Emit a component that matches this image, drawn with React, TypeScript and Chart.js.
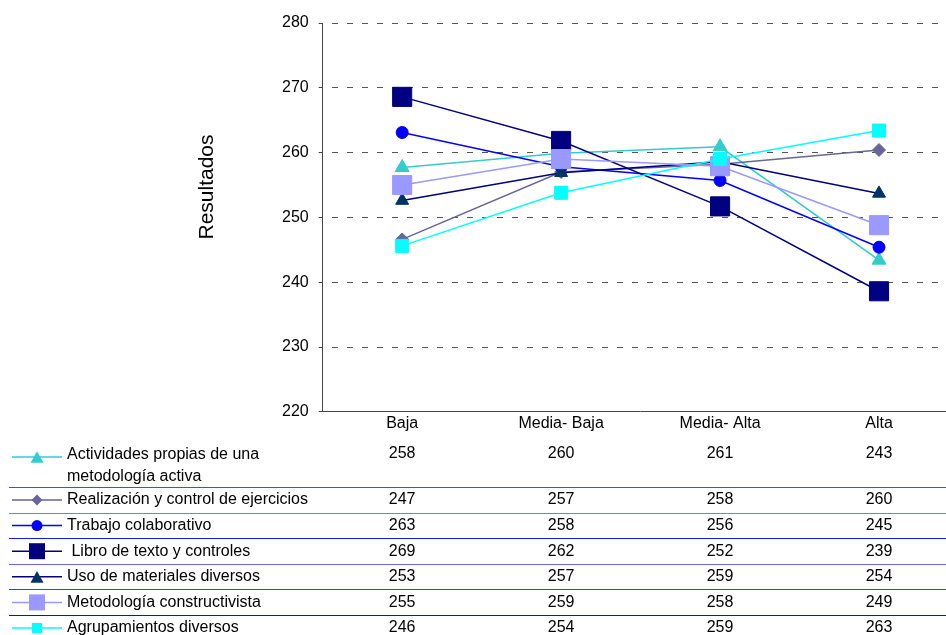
import React, { useEffect, useRef } from "react";
import { Chart, registerables } from "chart.js";

Chart.register(...registerables);

// ---------- data ----------
const categories = ["Baja", "Media- Baja", "Media- Alta", "Alta"];
const yTicks = [220, 230, 240, 250, 260, 270, 280];
const yAxisTitle = "Resultados";

const seriesNames = [
  "Actividades propias de una\nmetodología activa",
  "Realización y control de ejercicios",
  "Trabajo colaborativo",
  " Libro de texto y controles",
  "Uso de materiales diversos",
  "Metodología constructivista",
  "Agrupamientos diversos",
];

const actividades = [257.7, 259.9, 260.9, 243.4];
const realizacion = [246.6, 257.0, 258.2, 260.4];
const trabajo = [263.1, 257.8, 255.7, 245.4];
const libro = [268.6, 261.8, 251.7, 238.6];
const usoMateriales = [252.6, 256.9, 258.6, 253.7];
const constructivista = [255.0, 259.0, 257.9, 248.8];
const agrupamientos = [245.6, 253.8, 259.0, 263.4];

const seriesValues = [
  actividades,
  realizacion,
  trabajo,
  libro,
  usoMateriales,
  constructivista,
  agrupamientos,
];

// ---------- styles ----------
const FONT = "'Liberation Sans', Arial, Helvetica, sans-serif";
const lineColors = ["#33CCCC", "#666699", "#0000FF", "#000080", "#000080", "#9999FF", "#00FFFF"];
const markerColors = ["#33CCCC", "#666699", "#0000FF", "#000080", "#003366", "#9999FF", "#00FFFF"];
const pointStyles = ["triangle", "rectRot", "circle", "rect", "triangle", "rect", "rect"];
const pointRadii = [8, 6.5, 6, 13.5, 7.5, 13.5, 9.2];
// legend icon: [shape, size]
const legendShapes = ["triangle", "diamond", "circle", "square", "triangle", "square", "square"];
const legendSizes = [13, 11, 11, 16, 13, 16, 10];
const separatorColors = ["#4a4ae8", "#7a7af5", "#1a1aee", "#6a6af0", "#4040dd", "#1010cc"];
const CANVAS_W = 973;

function drawIcon(ctx: CanvasRenderingContext2D, shape: string, size: number, x: number, y: number, color: string) {
  ctx.fillStyle = color;
  ctx.beginPath();
  if (shape === "triangle") {
    const h = size * 0.9;
    ctx.moveTo(x, y - h / 2);
    ctx.lineTo(x + size / 2, y + h / 2);
    ctx.lineTo(x - size / 2, y + h / 2);
    ctx.closePath();
  } else if (shape === "diamond") {
    const s = size / 2;
    ctx.moveTo(x, y - s);
    ctx.lineTo(x + s, y);
    ctx.lineTo(x, y + s);
    ctx.lineTo(x - s, y);
    ctx.closePath();
  } else if (shape === "circle") {
    ctx.arc(x, y, size / 2, 0, Math.PI * 2);
  } else {
    ctx.rect(x - size / 2, y - size / 2, size, size);
  }
  ctx.fill();
}

const tablePlugin = {
  id: "dataTable",
  afterDraw(chart: any) {
    const ctx: CanvasRenderingContext2D = chart.ctx;
    const xs = chart.scales.x;
    ctx.save();

    // y-axis title
    ctx.save();
    ctx.font = `21px ${FONT}`;
    ctx.fillStyle = "#000";
    ctx.translate(213, 187);
    ctx.rotate(-Math.PI / 2);
    ctx.textAlign = "center";
    ctx.textBaseline = "alphabetic";
    ctx.fillText(yAxisTitle, 0, 0);
    ctx.restore();

    const rowH = 25.6;
    const firstCenter = 455;
    const secondCenter = 500;
    const nameLineH = 22;

    // separators
    ctx.lineWidth = 1;
    for (let i = 1; i < seriesNames.length; i++) {
      const y = Math.round(secondCenter + (i - 1) * rowH - 13) + 0.5;
      ctx.strokeStyle = separatorColors[i - 1];
      ctx.beginPath();
      ctx.moveTo(9, y);
      ctx.lineTo(chart.width, y);
      ctx.stroke();
    }

    ctx.font = `16px ${FONT}`;
    ctx.textBaseline = "middle";
    seriesNames.forEach((name, i) => {
      const cy = i === 0 ? firstCenter : secondCenter + (i - 1) * rowH;
      const my = i === 0 ? firstCenter + 2 : cy;
      // legend line
      ctx.strokeStyle = lineColors[i];
      ctx.lineWidth = 1.5;
      ctx.beginPath();
      ctx.moveTo(12, my);
      ctx.lineTo(62, my);
      ctx.stroke();
      drawIcon(ctx, legendShapes[i], legendSizes[i], 37, my, markerColors[i]);
      // name
      ctx.fillStyle = "#000";
      ctx.textAlign = "left";
      name.split("\n").forEach((line, k) => {
        ctx.fillText(line, 67, cy + k * nameLineH);
      });
      // values
      ctx.textAlign = "center";
      seriesValues[i].forEach((v, j) => {
        const x = xs.getPixelForValue(j);
        ctx.fillText(String(Math.round(v)), x, i === 0 ? cy - 1 : cy);
      });
    });
    ctx.restore();
  },
};

export default function App() {
  const ref = useRef<HTMLCanvasElement>(null);
  useEffect(() => {
    Chart.defaults.font.family = FONT;
    Chart.defaults.font.size = 16;
    Chart.defaults.color = "#000";
    const chart = new Chart(ref.current as HTMLCanvasElement, {
      type: "line",
      data: {
        labels: categories,
        datasets: seriesValues.map((vals, i) => ({
          label: seriesNames[i].replace("\n", " ").trim(),
          data: vals,
          borderColor: lineColors[i],
          backgroundColor: markerColors[i],
          pointBackgroundColor: markerColors[i],
          pointBorderColor: markerColors[i],
          pointStyle: pointStyles[i] as any,
          pointRadius: pointRadii[i],
          pointBorderWidth: 1,
          borderWidth: 1.5,
          tension: 0,
          fill: false,
          order: seriesValues.length - i,
        })),
      },
      options: {
        responsive: false,
        animation: false,
        layout: { padding: { left: 272, top: 23, right: 2, bottom: 200 } },
        plugins: { legend: { display: false }, tooltip: { enabled: false } },
        scales: {
          x: {
            offset: true,
            grid: { display: false, drawTicks: false, tickLength: 0 },
            border: { display: true, color: "#444", width: 1 },
            ticks: { color: "#000", font: { size: 16 }, padding: 2, maxRotation: 0, autoSkip: false },
          },
          y: {
            min: yTicks[0],
            max: yTicks[yTicks.length - 1],
            afterBuildTicks: (scale: any) => {
              scale.ticks = yTicks.map((v) => ({ value: v }));
            },
            ticks: { color: "#000", font: { size: 16 }, padding: 10 },
            grid: { color: "#555", tickLength: 4, tickColor: "#444", lineWidth: 1 },
            border: { display: true, color: "#444", width: 1, dash: [6, 9], dashOffset: 6 },
          },
        },
      },
      plugins: [tablePlugin],
    });
    return () => chart.destroy();
  }, []);
  return (
    <div
      style={{
        position: "absolute",
        left: 0,
        top: 0,
        width: 946,
        height: 635,
        overflow: "hidden",
        background: "#fff",
      }}
    >
      <canvas ref={ref} width={CANVAS_W} height={635} style={{ display: "block" }} />
    </div>
  );
}
